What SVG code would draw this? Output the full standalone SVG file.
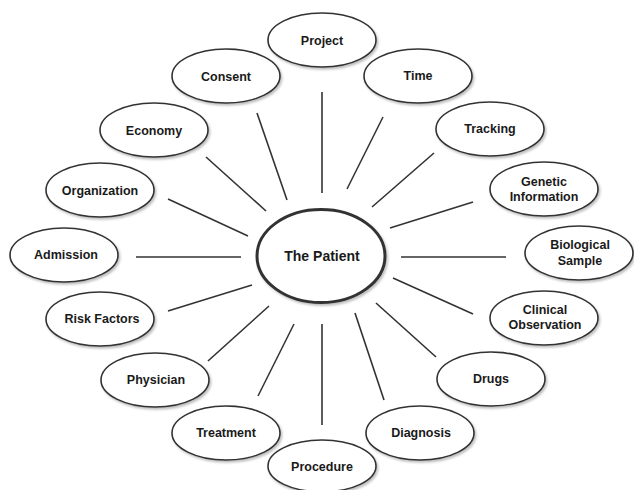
<svg xmlns="http://www.w3.org/2000/svg" width="634" height="490" viewBox="0 0 634 490">
<defs>
<filter id="sh" x="-20%" y="-20%" width="140%" height="150%">
<feDropShadow dx="1.5" dy="2" stdDeviation="1.2" flood-color="#000" flood-opacity="0.25"/>
</filter>
</defs>
<style>
.n ellipse{fill:#fff;stroke:#333;stroke-width:1.6;filter:url(#sh)}
.n text{font-family:"Liberation Sans",Arial,sans-serif;font-weight:bold;font-size:12.5px;fill:#1a1a1a;text-anchor:middle}
#patient ellipse{stroke-width:3}
#patient text{font-size:14px}
.c line{stroke:#333;stroke-width:1.6}
</style>
<rect width="634" height="490" fill="#fff"/>
<g class="c" id="connectors">
<line x1="322" y1="92" x2="322" y2="193"/>
<line x1="257" y1="113" x2="287" y2="200"/>
<line x1="206" y1="157" x2="266" y2="211"/>
<line x1="168" y1="199" x2="248" y2="236"/>
<line x1="136" y1="257" x2="241" y2="257"/>
<line x1="168" y1="311" x2="252" y2="285"/>
<line x1="208" y1="361" x2="269" y2="306"/>
<line x1="258" y1="396" x2="294" y2="324"/>
<line x1="322" y1="324" x2="322" y2="425"/>
<line x1="383" y1="117" x2="347" y2="189"/>
<line x1="434" y1="153" x2="372" y2="207"/>
<line x1="473" y1="202" x2="390" y2="228"/>
<line x1="401" y1="257" x2="506" y2="257"/>
<line x1="393" y1="278" x2="473" y2="314"/>
<line x1="376" y1="303" x2="436" y2="357"/>
<line x1="355" y1="313" x2="384" y2="400"/>
</g>
<g class="n" id="patient"><ellipse cx="321" cy="256" rx="64" ry="46.5"/><text x="322" y="261">The Patient</text></g>
<g class="n" id="project"><ellipse cx="322" cy="40" rx="54" ry="27"/><text x="322" y="45">Project</text></g>
<g class="n" id="consent"><ellipse cx="226" cy="76" rx="54" ry="27"/><text x="226" y="81">Consent</text></g>
<g class="n" id="economy"><ellipse cx="154" cy="130" rx="54" ry="27"/><text x="154" y="135">Economy</text></g>
<g class="n" id="organization"><ellipse cx="100" cy="190" rx="54" ry="27"/><text x="100" y="195">Organization</text></g>
<g class="n" id="admission"><ellipse cx="64" cy="255" rx="54" ry="27"/><text x="66" y="259">Admission</text></g>
<g class="n" id="riskfactors"><ellipse cx="100" cy="319" rx="54" ry="27"/><text x="102" y="323">Risk Factors</text></g>
<g class="n" id="physician"><ellipse cx="155" cy="380" rx="54" ry="27"/><text x="156" y="384">Physician</text></g>
<g class="n" id="treatment"><ellipse cx="226" cy="433" rx="54" ry="27"/><text x="226" y="437">Treatment</text></g>
<g class="n" id="procedure"><ellipse cx="322" cy="466" rx="54" ry="26"/><text x="322" y="471">Procedure</text></g>
<g class="n" id="time"><ellipse cx="418" cy="76" rx="54" ry="27"/><text x="418" y="80">Time</text></g>
<g class="n" id="tracking"><ellipse cx="490" cy="129" rx="54" ry="27"/><text x="490" y="133">Tracking</text></g>
<g class="n" id="genetic"><ellipse cx="544" cy="189" rx="54" ry="27"/><text x="544" y="186">Genetic</text><text x="544" y="201">Information</text></g>
<g class="n" id="biological"><ellipse cx="579" cy="253" rx="54" ry="27"/><text x="580" y="249">Biological</text><text x="580" y="265">Sample</text></g>
<g class="n" id="clinical"><ellipse cx="544" cy="318" rx="54" ry="27"/><text x="545" y="314">Clinical</text><text x="545" y="329">Observation</text></g>
<g class="n" id="drugs"><ellipse cx="491" cy="379" rx="54" ry="27"/><text x="491" y="383">Drugs</text></g>
<g class="n" id="diagnosis"><ellipse cx="420" cy="433" rx="54" ry="27"/><text x="421" y="437">Diagnosis</text></g>
</svg>
